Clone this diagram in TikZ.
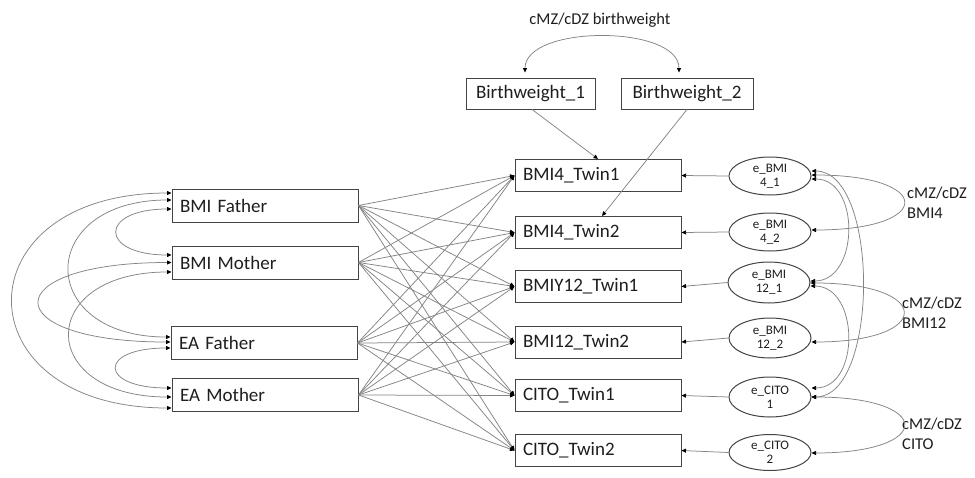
\documentclass[tikz,border=0pt]{standalone}
\usepackage{fontspec}
\setmainfont{Carlito}
\usetikzlibrary{arrows.meta,shapes.geometric}
\definecolor{bd}{HTML}{444444}
\definecolor{ln}{HTML}{848484}
\definecolor{tx}{HTML}{1E1E1E}
\tikzset{
  lbox/.style={draw=bd, line width=1pt, text=tx, text width=170pt, inner xsep=8pt, inner ysep=0pt, minimum height=33pt, align=left, font=\fontsize{19}{22}\selectfont},
  mbox/.style={draw=bd, line width=1pt, text=tx, text width=150pt, inner xsep=8pt, inner ysep=0pt, minimum height=32pt, align=left, font=\fontsize{19}{22}\selectfont},
  bbox/.style={draw=bd, line width=0.9pt, text=tx, inner xsep=0pt, inner ysep=0pt, minimum height=31pt, align=center, font=\fontsize{19}{22}\selectfont},
  err/.style={draw=bd, line width=1pt, ellipse, text=tx, minimum width=82pt, minimum height=38pt, inner sep=0pt, align=center, font=\fontsize{13}{14}\selectfont},
  lab/.style={text=tx, inner sep=0pt, align=left, font=\fontsize{16.5}{20}\selectfont},
  conn/.style={draw=ln, line width=0.75pt},
  >={Triangle[length=4.5pt,width=4pt,color=black]}
}
\begin{document}
\begin{tikzpicture}[x=1pt,y=-1pt]
\fill[white] (0,0) rectangle (975,477);
\useasboundingbox (0,0) rectangle (975,477);

% left boxes
\node[lbox] (bf) at (265,205.5) {BMI Father};
\node[lbox] (bm) at (265,262.5) {BMI Mother};
\node[lbox] (ef) at (264,343) {EA Father};
\node[lbox] (em) at (265,395) {EA Mother};

% middle boxes
\node[mbox] (t1) at (598,175.5) {BMI4\_Twin1};
\node[mbox] (t2) at (598,232.5) {BMI4\_Twin2};
\node[mbox] (y1) at (598,286.5) {BMIY12\_Twin1};
\node[mbox] (y2) at (598,342) {BMI12\_Twin2};
\node[mbox] (c1) at (598,395.5) {CITO\_Twin1};
\node[mbox] (c2) at (598,450.5) {CITO\_Twin2};

% birthweight
\node[bbox, minimum width=129pt] (bw1) at (530.5,93.5) {Birthweight\_1};
\node[bbox, minimum width=132pt] (bw2) at (687,93.5) {Birthweight\_2};
\node[lab, align=center] (blab) at (600,20) {cMZ/cDZ birthweight};

% error ellipses
\node[err] (e41) at (770,176) {e\_BMI\\4\_1};
\node[err] (e42) at (770,232) {e\_BMI\\4\_2};
\node[err, minimum height=41pt] (e121) at (769,282.5) {e\_BMI\\12\_1};
\node[err, minimum height=40pt] (e122) at (770,338) {e\_BMI\\12\_2};
\node[err, minimum height=40pt] (ec1) at (770,397) {e\_CITO\\1};
\node[err, minimum height=36pt] (ec2) at (770,452.5) {e\_CITO\\2};

% right labels
\node[lab, anchor=west] (l4) at (907,203) {cMZ/cDZ\\BMI4};
\node[lab, anchor=west] (l12) at (902,313) {cMZ/cDZ\\BMI12};
\node[lab, anchor=west] (lc) at (902,434) {cMZ/cDZ\\CITO};

% parent -> child paths
\foreach \s in {bf,bm,ef,em}{
  \foreach \t in {t1,t2,y1,y2,c1,c2}{
    \draw[conn,->] (\s.east) -- (\t.west);
  }
}

% error -> observed
\foreach \e/\t in {e41/t1,e42/t2,e121/y1,e122/y2,ec1/c1,ec2/c2}{
  \draw[conn,->] (\e.west) -- (\t.east);
}

% birthweight paths
\draw[conn,->] ([xshift=1.5pt]bw1.south) -- (t1.north);
\draw[conn,->] (bw2.south) -- ([xshift=4pt]t2.north);
\draw[conn,<->] ([xshift=-5.5pt,yshift=5pt]bw1.north) .. controls +(0,-48) and +(0,-48) .. ([xshift=-8pt,yshift=5pt]bw2.north);

% left covariances
\draw[conn,<->] ([yshift=-3.5pt]bf.west) .. controls +(-73,0) and +(-73,0) .. ([yshift=7.5pt]bm.west);
\draw[conn,<->] ([yshift=-5pt]ef.west) .. controls +(-73,0) and +(-73,0) .. ([yshift=7pt]em.west);
\draw[conn,<->] ([yshift=5.5pt]bf.west) .. controls +(-136,0) and +(-136,0) .. ([yshift=6pt]ef.west);
\draw[conn,<->] (bm.west) .. controls +(-176,0) and +(-176,0) .. ([yshift=1pt]ef.west);
\draw[conn,<->] ([yshift=-9.5pt]bm.west) .. controls +(-136,0) and +(-136,0) .. ([yshift=-2pt]em.west);
\draw[conn,<->] ([yshift=12.5pt]bf.west) .. controls +(-212,0) and +(-212,0) .. ([yshift=-13pt]em.west);

% right covariances
\draw[conn,<->] ([yshift=1pt]e41.east) .. controls +(123,0) and +(123,0) .. ([yshift=2pt]e42.east);
\draw[conn,<->] ([yshift=-0.5pt]e121.east) .. controls +(123,0) and +(123,0) .. ([yshift=-4pt]e122.east);
\draw[conn,<->] (ec1.east) .. controls +(123,0) and +(123,0) .. ([yshift=-0.5pt]ec2.east);
\draw[conn,<->] ([yshift=5pt]e41.east) .. controls +(68,0) and +(68,0) .. ([yshift=0pt]ec1.east);
\draw[conn,<->] ([yshift=-3pt]e41.east) .. controls +(49,0) and +(49,0) .. ([yshift=1.5pt]e121.east);
\draw[conn,<->] ([yshift=-3.5pt]e121.east) .. controls +(49,0) and +(49,0) .. ([yshift=9pt]ec1.east);
\end{tikzpicture}
\end{document}
